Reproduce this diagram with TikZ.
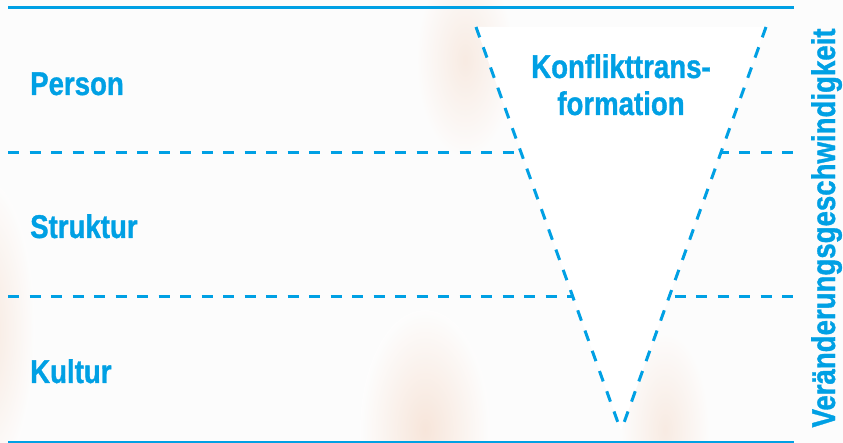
\documentclass[tikz,border=0pt]{standalone}
\usepackage{fontspec}
\newfontfamily\cond{Liberation Sans Bold}[FakeStretch=0.84, FakeBold=1.0]
\usetikzlibrary{calc}
\definecolor{lineblue}{RGB}{0,160,228}
\definecolor{blush}{RGB}{240,196,168}
\tikzset{
  solidrule/.style={draw=lineblue, line width=3bp},
  dashrule/.style={draw=lineblue, line width=3bp, dash pattern=on 11bp off 10.5bp},
  label/.style={text=lineblue, font=\cond\fontsize{33}{37}\selectfont, inner sep=0pt},
  blob/.style={inner color=blush, outer color=white, draw=none, opacity=0.35}
}
\begin{document}
\begin{tikzpicture}[x=1bp,y=-1bp]
\useasboundingbox (0,0) rectangle (843,443);
\fill[white!99!black] (0,0) rectangle (843,443);
% faint photo background
\begin{scope}
\clip (0,0) rectangle (843,443);
\shade[blob] (-15,330) ellipse [x radius=50, y radius=150];
\shade[blob, opacity=0.3] (465,60) ellipse [x radius=50, y radius=100];
\shade[blob, opacity=0.4] (425,430) ellipse [x radius=65, y radius=120];
\shade[blob, opacity=0.3] (665,430) ellipse [x radius=45, y radius=100];
\end{scope}
% coordinates
\coordinate (tl) at (8,8);   \coordinate (tr) at (794,8);
\coordinate (d1l) at (8,153); \coordinate (d1r) at (794,153);
\coordinate (d2l) at (8,297); \coordinate (d2r) at (794,297);
\coordinate (bl) at (8,442); \coordinate (br) at (794,442);
\coordinate (vl) at (476,27); \coordinate (vr) at (766,27); \coordinate (apex) at (621,431);
% rules
\draw[solidrule] (tl) -- (tr);
\draw[solidrule] (bl) -- (br);
\draw[dashrule] (d1l) -- (d1r);
\draw[dashrule] (d2l) -- (d2r);
% funnel
\fill[white] (vl) -- (vr) -- (apex) -- cycle;
\draw[dashrule] (vl) -- (apex);
\draw[dashrule] (vr) -- (apex);
% labels
\node[label, anchor=base west] (person) at (30,95) {Person};
\node[label, anchor=base west] (struktur) at (30,238) {Struktur};
\node[label, anchor=base west] (kultur) at (30,383) {Kultur};
\node[label, anchor=base] (konf1) at (621,78) {Konflikttrans-};
\node[label, anchor=base] (konf2) at (621,115) {formation};
\node[label, anchor=base, rotate=90] (speed) at (835,228) {Veränderungsgeschwindigkeit};
\end{tikzpicture}
\end{document}
